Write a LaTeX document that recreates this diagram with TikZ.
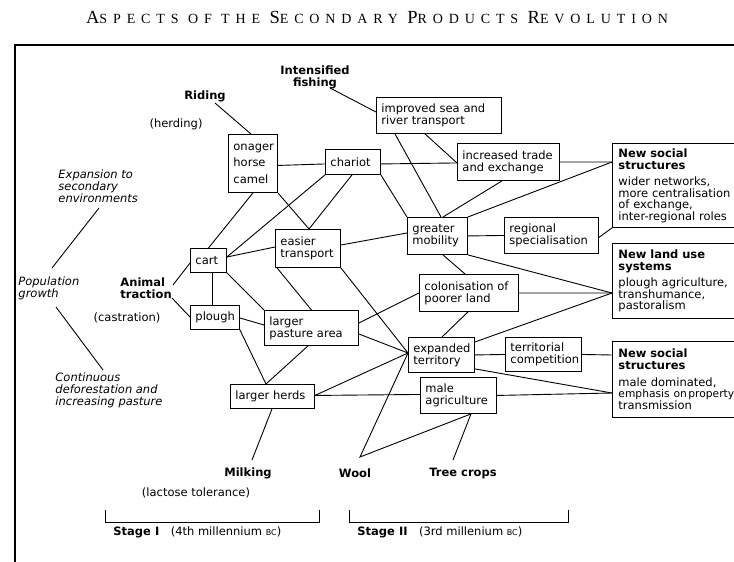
\documentclass[tikz,border=0pt]{standalone}
\usepackage{fontspec}
\setmainfont{DejaVu Sans}
\newfontfamily\titlefont[LetterSpace=42]{Liberation Serif}
\newcommand\bx{\fontsize{11.5}{12}\selectfont}
\newcommand\lb{\bfseries\fontsize{11.5}{12}\selectfont}
\newcommand\bigc[1]{{\fontsize{18.5}{18.5}\selectfont #1}}
\newcommand\smc[1]{{\fontsize{8}{8}\selectfont #1}}
\begin{document}
\begin{tikzpicture}[x=1pt,y=-1pt,line width=0.9pt,
  box/.style={draw,anchor=north west,inner xsep=5pt,inner ysep=0pt,align=left,font=\bx},
  nsbox/.style={draw,anchor=north west,inner xsep=6pt,inner ysep=0pt,align=left,
     font=\fontsize{11.5}{11.5}\selectfont,text width=160pt},
  lab/.style={inner sep=1pt,font=\lb,align=center},
  plain/.style={inner sep=1pt,font=\bx,align=center},
  ital/.style={inner sep=1pt,font=\itshape\fontsize{11.5}{11}\selectfont,align=left,anchor=west}]
\useasboundingbox (0,0) rectangle (734,562);
% frame
\coordinate (fr1) at (745,45);
\coordinate (fr2) at (15,45);
\coordinate (fr3) at (15,565);
\draw[line width=1.1pt] (fr1) -- (fr2) -- (fr3);
% title
\node[inner sep=0pt,font=\titlefont\fontsize{14}{14}\selectfont] (title) at (377,17)
  {\bigc{A}SPECTS OF THE \bigc{S}ECONDARY \bigc{P}RODUCTS \bigc{R}EVOLUTION};
% boxes
\node[box,text width=115pt,minimum height=36pt] (sea) at (376,97) {improved sea and\\river transport};
\node[box,text width=39pt,minimum height=58pt,font=\fontsize{11.5}{16.5}\selectfont] (onager) at (228,134) {onager\\horse\\camel};
\node[box,text width=45pt,minimum height=25pt] (chariot) at (325,149) {chariot};
\node[box,text width=92pt,minimum height=37pt] (trade) at (457,143) {increased trade\\and exchange};
\node[nsbox,minimum height=84pt] (ns1) at (612,143) {\textbf{New social}\\[0.5pt]\textbf{structures}\\[5pt]wider networks,\\more centralisation\\of exchange,\\inter-regional roles};
\node[box,text width=50pt,minimum height=37pt] (mob) at (407,217) {greater\\mobility};
\node[box,text width=84pt,minimum height=36pt] (reg) at (504,217) {regional\\specialisation};
\node[box,text width=55pt,minimum height=38pt] (easier) at (275,229) {easier\\transport};
\node[box,text width=26pt,minimum height=24pt] (cart) at (190,248) {cart};
\node[box,text width=39pt,minimum height=24pt] (plough) at (190,305) {plough};
\node[nsbox,minimum height=75pt] (landuse) at (612,243) {\textbf{New land use}\\[0.5pt]\textbf{systems}\\[5pt]plough agriculture,\\transhumance,\\pastoralism};
\node[box,text width=84pt,minimum height=35pt] (pasture) at (264,310) {larger\\pasture area};
\node[box,text width=89pt,minimum height=37pt] (colon) at (419,274) {colonisation of\\poorer land};
\node[box,text width=56pt,minimum height=35pt] (exp) at (408,337) {expanded\\territory};
\node[box,text width=66pt,minimum height=34pt] (terr) at (505,337) {territorial\\competition};
\node[nsbox,minimum height=76pt] (ns2) at (612,341) {\textbf{New social}\\[0.5pt]\textbf{structures}\\[5pt]male dominated,\\{\fontsize{10.7}{11.5}\selectfont emphasis on\hspace{1.5pt}property}\\transmission};
\node[box,text width=66pt,minimum height=36pt] (male) at (420,377) {male\\agriculture};
\node[box,text width=74pt,minimum height=24pt] (herds) at (230,384) {larger herds};
% labels
\node[lab] (fishing) at (315,77) {Intensified\\fishing};
\node[lab] (riding) at (205,96) {Riding};
\node[plain] (herding) at (176,124) {(herding)};
\node[ital] (expansion) at (57,186) {Expansion to\\secondary\\environments};
\node[ital] (population) at (17,288) {Population\\growth};
\node[lab,align=left,anchor=west] (animal) at (119,288) {Animal\\traction};
\node[plain] (castration) at (127,318) {(castration)};
\node[ital,font=\itshape\fontsize{11.5}{12}\selectfont] (continuous) at (54,390) {Continuous\\deforestation and\\increasing pasture};
\node[lab] (milking) at (248,473) {Milking};
\node[lab] (wool) at (355,473) {Wool};
\node[lab] (tree) at (463,473) {Tree crops};
\node[plain] (lactose) at (196,493) {(lactose tolerance)};
\node[plain,anchor=west] (stage1) at (112,532) {\textbf{Stage I}\quad(4th millennium \smc{BC})};
\node[plain,anchor=west] (stage2) at (356,532) {\textbf{Stage II}\quad(3rd millenium \smc{BC})};
% free ends
\coordinate (ridA) at (215,103);
\coordinate (fishA) at (330,88);
\coordinate (aniA) at (173,285);
\coordinate (aniB) at (172,298);
\coordinate (milA) at (252,460);
\coordinate (woolV) at (360,457);
\coordinate (treeA) at (453,460);
\coordinate (e1) at (99,208);
\coordinate (e2) at (52,268);
\coordinate (p1) at (56,307);
\coordinate (p2) at (103,370);
\coordinate (s1a) at (105,510); \coordinate (s1b) at (105,522);
\coordinate (s1c) at (319,522); \coordinate (s1d) at (319,510);
\coordinate (s2a) at (349,510); \coordinate (s2b) at (349,522);
\coordinate (s2c) at (568,522); \coordinate (s2d) at (568,510);
% junction points
\coordinate (ns1in) at ([yshift=-19pt]ns1.north west);
\coordinate (luin) at ([yshift=-50pt]landuse.north west);
\coordinate (ns2in) at ([yshift=-52pt]ns2.north west);
\coordinate (expin) at ([yshift=-16pt]exp.north west);
\coordinate (easin) at ([xshift=34pt]easier.north west);
\coordinate (cartout) at ([yshift=-9pt]cart.north east);
\coordinate (herdin) at ([xshift=36pt]herds.north west);
\coordinate (malein) at ([xshift=51pt]male.south west);
% connectors
\draw (ridA) -- ([xshift=-2pt]onager.north);
\draw (fishA) -- ([yshift=-15pt]sea.north west);
\draw ([yshift=-2pt]onager.east) -- ([yshift=-2pt]chariot.west);
\draw ([yshift=-2pt]chariot.east) -- ([yshift=-1pt]trade.west);
\draw ([xshift=49pt]sea.south west) -- ([yshift=-1pt]trade.west);
\draw ([xshift=19pt]sea.south west) -- ([xshift=34pt]mob.north west);
\draw (chariot.south east) -- (mob.north west);
\draw ([xshift=45pt]trade.south west) -- ([xshift=36pt]mob.north west);
\draw (trade.east) -- (ns1in);
\draw (mob.north east) -- (ns1in);
\draw (mob.east) -- (reg.west);
\draw ([yshift=-2pt]reg.east) -- (ns1.south west);
\draw (mob.south east) -- (luin);
\draw (colon.east) -- (luin);
\draw ([yshift=-5pt]exp.north east) -- (luin);
\draw (exp.east) -- (terr.west);
\draw (terr.east) -- ([yshift=-14pt]ns2.north west);
\draw ([yshift=4pt]exp.south east) -- (ns2in);
\draw (male.east) -- (ns2in);
\draw ([yshift=1pt]herds.east) -- ([yshift=1pt]male.west);
\draw ([yshift=1pt]herds.east) -- (expin);
\draw ([yshift=-24pt]pasture.north east) -- (expin);
\draw ([yshift=-13pt]pasture.north east) -- (colon.west);
\draw (easier.south east) -- (expin);
\draw ([xshift=2pt]easier.south west) -- (pasture.north);
\draw ([yshift=-16pt]easier.north east) -- ([yshift=-16pt]mob.north west);
\draw ([xshift=27pt]chariot.south west) -- (easin);
\draw (chariot.south west) -- (cartout);
\draw (onager.south east) -- (easin);
\draw (onager.south) -- (cart.north);
\draw (cartout) -- ([yshift=-18pt]easier.north west);
\draw ([xshift=22pt]cart.south west) -- ([xshift=22pt]plough.north west);
\draw (cart.south east) -- (pasture.north west);
\draw ([yshift=-13pt]plough.north east) -- ([yshift=-15pt]pasture.north west);
\draw (plough.south east) -- (herdin);
\draw ([xshift=44pt]pasture.south west) -- (herdin);
\draw ([xshift=49pt]colon.south west) -- ([xshift=34pt]exp.north west);
\draw ([xshift=36pt]mob.south west) -- ([xshift=46pt]colon.north west);
\draw (aniA) -- ([yshift=-15pt]cart.north west);
\draw (aniB) -- ([yshift=-12pt]plough.north west);
\draw ([xshift=42pt]herds.south west) -- (milA);
\draw (expin) -- (woolV) -- (malein);
\draw (treeA) -- (malein);
\draw (e1) -- (e2);
\draw (p1) -- (p2);
\draw (s1a) -- (s1b) -- (s1c) -- (s1d);
\draw (s2a) -- (s2b) -- (s2c) -- (s2d);
\end{tikzpicture}
\end{document}
